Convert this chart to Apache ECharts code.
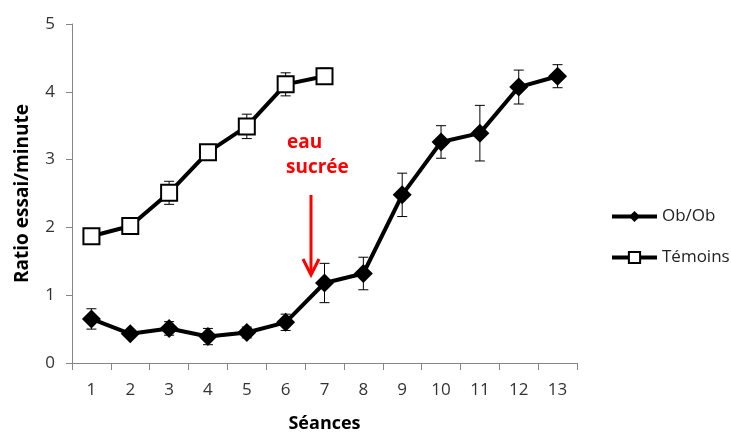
<!DOCTYPE html>
<html><head><meta charset="utf-8">
<script src="https://cdn.jsdelivr.net/npm/echarts@6/dist/echarts.min.js"></script>
<style>html,body{margin:0;padding:0;background:#fff}#c{width:731px;height:432px}</style>
</head><body><div id="c"></div>
<script>
const categories = ['1','2','3','4','5','6','7','8','9','10','11','12','13'];
const obob = [0.65,0.43,0.51,0.39,0.45,0.60,1.18,1.32,2.48,3.26,3.39,4.07,4.23];
const obobErr = [0.15,0.05,0.10,0.12,0.08,0.12,0.29,0.24,0.32,0.24,0.41,0.25,0.17];
const temoins = [1.87,2.02,2.51,3.11,3.49,4.11,4.23,null,null,null,null,null,null];
const temoinsErr = [0.06,0.05,0.17,0.07,0.18,0.17,0.12,null,null,null,null,null,null];
const yTicks = [0,1,2,3,4,5];

const font = '"Open Sans", "Liberation Sans", sans-serif';
function errData(vals, errs){
  const out=[];
  vals.forEach((v,i)=>{ if(v!=null && errs[i]!=null) out.push([i, v-errs[i], v+errs[i]]); });
  return out;
}
function errSeries(vals, errs){
  return {
    type:'custom', z:1, silent:true, legendHoverLink:false,
    data: errData(vals, errs),
    renderItem: function(params, api){
      const lo = api.coord([api.value(0), api.value(1)]);
      const hi = api.coord([api.value(0), api.value(2)]);
      const w = 5;
      const st = {stroke:'#000', lineWidth:1};
      return {type:'group', children:[
        {type:'line', shape:{x1:lo[0],y1:lo[1],x2:hi[0],y2:hi[1]}, style:st},
        {type:'line', shape:{x1:lo[0]-w,y1:lo[1],x2:lo[0]+w,y2:lo[1]}, style:st},
        {type:'line', shape:{x1:hi[0]-w,y1:hi[1],x2:hi[0]+w,y2:hi[1]}, style:st}
      ]};
    }
  };
}
const chart = echarts.init(document.getElementById('c'));
chart.setOption({
  animation:false,
  textStyle:{fontFamily:font},
  grid:{left:72, right:154, top:24, bottom:69, containLabel:false, outerBoundsMode:'none'},
  legend:{
    orient:'vertical', left:605, top:203, itemGap:24, itemWidth:45, itemHeight:14,
    textStyle:{fontSize:17, color:'#222', fontFamily:font},
    lineStyle:{width:4},
    data:['Ob/Ob','Témoins']
  },
  xAxis:{
    type:'category', data:categories, boundaryGap:true,
    name:'Séances', nameLocation:'middle', nameGap:52,
    nameTextStyle:{fontSize:18, fontWeight:'bold', color:'#000', fontFamily:font},
    axisLine:{lineStyle:{color:'#868686', width:1}},
    axisTick:{show:true, alignWithLabel:false, length:7, lineStyle:{color:'#868686'}},
    axisLabel:{fontSize:17, color:'#333', margin:19, fontFamily:font}
  },
  yAxis:{
    type:'value', min:0, max:5, interval:1,
    name:'Ratio essai/minute', nameLocation:'middle', nameGap:40, nameRotate:90,
    nameTextStyle:{fontSize:19, fontWeight:'bold', color:'#000', fontFamily:font},
    axisLine:{show:true, lineStyle:{color:'#868686'}},
    axisTick:{show:true, length:6, lineStyle:{color:'#868686'}},
    splitLine:{show:false},
    axisLabel:{fontSize:17, color:'#333', margin:17, fontFamily:font,
      formatter:v=>yTicks.includes(v)?String(v):''}
  },
  series:[
    errSeries(obob, obobErr),
    errSeries(temoins, temoinsErr),
    {name:'Ob/Ob', type:'line', z:3, data:obob, symbol:'diamond', symbolSize:[19,19],
     lineStyle:{color:'#000', width:4}, itemStyle:{color:'#000', borderColor:'#000', borderWidth:0}},
    {name:'Témoins', type:'line', z:3, data:temoins, symbol:'rect', symbolSize:[16,16],
     connectNulls:false,
     lineStyle:{color:'#000', width:4}, itemStyle:{color:'#fff', borderColor:'#000', borderWidth:2}}
  ],
  graphic:[
    {type:'text', left:287, top:133, style:{text:'eau', fill:'#ff0000', font:'bold 19px '+font}},
    {type:'text', left:286, top:158, style:{text:'sucrée', fill:'#ff0000', font:'bold 19px '+font}},
    {type:'line', shape:{x1:311,y1:195,x2:311,y2:273}, style:{stroke:'#ff0000', lineWidth:3}},
    {type:'polyline', shape:{points:[[303,259],[311,275],[319,259]]}, style:{stroke:'#ff0000', lineWidth:3, fill:null}}
  ]
});
</script></body></html>
